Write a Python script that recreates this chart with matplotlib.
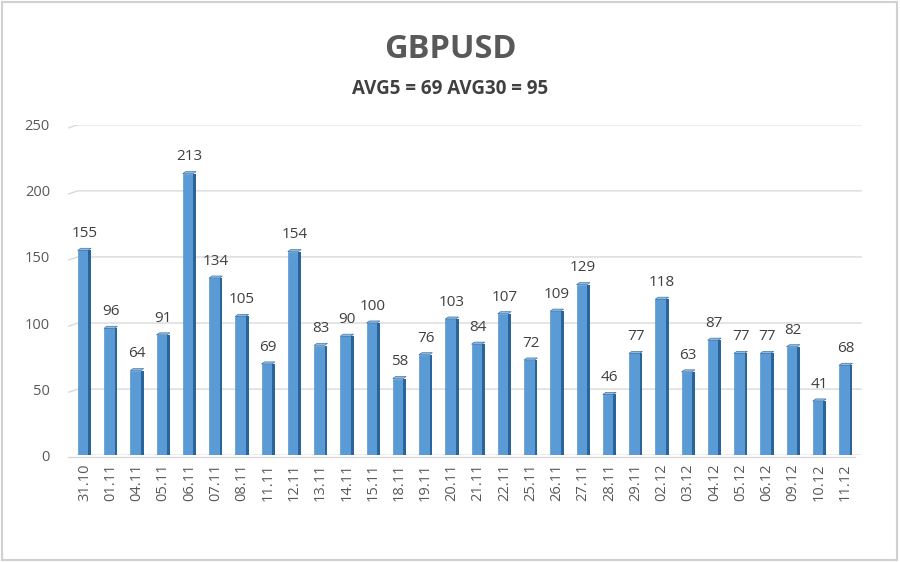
import matplotlib
matplotlib.use("Agg")
import matplotlib.pyplot as plt
import numpy as np
from matplotlib.patches import Polygon, Rectangle

dates = ["31.10", "01.11", "04.11", "05.11", "06.11", "07.11", "08.11", "11.11", "12.11",
         "13.11", "14.11", "15.11", "18.11", "19.11", "20.11", "21.11", "22.11", "25.11",
         "26.11", "27.11", "28.11", "29.11", "02.12", "03.12", "04.12", "05.12", "06.12",
         "09.12", "10.12", "11.12"]
values = [155, 96, 64, 91, 213, 134, 105, 69, 154, 83, 90, 100, 58, 76, 103, 84, 107, 72,
          109, 129, 46, 77, 118, 63, 87, 77, 77, 82, 41, 68]
title = "GBPUSD"
subtitle = "AVG5 = 69 AVG30 = 95"
yticks = [0, 50, 100, 150, 200, 250]

plt.rcParams['font.family'] = ['Open Sans', 'DejaVu Sans']
text_col = "#595959"

fig = plt.figure(figsize=(9, 5.62), dpi=100)
fig.patch.set_facecolor("white")
ax = fig.add_axes([0.0756, 0.190, 0.882, 0.588])
n = len(values)
x = np.arange(n)
ax.set_xlim(-0.62, n - 1 + 0.62)
ax.set_ylim(0, 250)

# gridlines with 3D slant on the left
for yt in yticks:
    ax.plot([-0.62, -0.25, n - 1 + 0.62], [yt - 2.5, yt, yt], color="#D9D9D9", lw=1.0,
            zorder=1, solid_capstyle="butt")
ax.plot([-0.62, n - 1 + 0.35], [-1.2, -1.2], color="#D9D9D9", lw=1.0, zorder=1, clip_on=False)

w = 0.40
side = 0.11
ax.bar(x - 0.05, values, width=w, color="#5B9BD5", edgecolor="#4A8BC8", lw=0.4, zorder=3)
ax.bar(x - 0.05 + w / 2 + side / 2, values, width=side, color="#2A649A", lw=0, zorder=3)
for xi, v in zip(x, values):
    left = xi - 0.05 - w / 2
    right = xi - 0.05 + w / 2
    cap = Polygon([[left, v], [left + side, v + 1.6], [right + side, v + 1.6], [right, v]],
                  closed=True, facecolor="#8DBBE6", edgecolor="#2A649A", lw=0.4, zorder=4)
    ax.add_patch(cap)
    ax.text(xi, v + 7, str(v), ha="center", va="bottom", fontsize=11, color="#404040", zorder=5)

ax.set_xticks(x)
ax.set_xticklabels(dates, rotation=90, fontsize=10.5, color=text_col)
ax.set_yticks(yticks)
ax.set_yticklabels([str(t) for t in yticks], fontsize=10.5, color=text_col)
ax.tick_params(length=0, pad=6)
ax.tick_params(axis="y", pad=13)
for s in ax.spines.values():
    s.set_visible(False)
ax.set_facecolor("none")

fig.text(0.5, 0.912, title, ha="center", va="center", fontsize=23.5, fontweight="bold", color=text_col)
fig.text(0.5, 0.841, subtitle, ha="center", va="center", fontsize=13.5, fontweight="bold", color="#404040")

border = Rectangle((0.002, 0.003), 0.995, 0.994, transform=fig.transFigure, fill=False,
                   edgecolor="#D0D0D0", lw=1.5)
fig.patches.append(border)

fig.savefig("out.png", dpi=100)
